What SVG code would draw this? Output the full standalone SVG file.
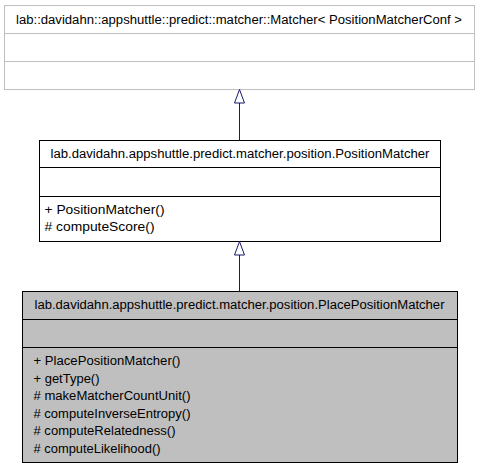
<svg xmlns="http://www.w3.org/2000/svg" width="480" height="469" viewBox="0 0 480 469">
<style>
text{font-family:"Liberation Sans",Arial,Helvetica,sans-serif;font-size:12.5px;fill:#000}
.t{text-anchor:middle}
.grey{fill:#fff;stroke:#bfbfbf;stroke-width:1}
.blk{fill:#fff;stroke:#000;stroke-width:1}
.cur{fill:#bfbfbf;stroke:#000;stroke-width:1}
.edge{stroke:#191970;stroke-width:1;fill:none}
.head{stroke:#191970;stroke-width:1;fill:#fff}
</style>
<rect width="480" height="469" fill="#fff"/>
<g id="node_matcher">
<rect class="grey" x="4.5" y="5.5" width="470" height="84"/>
<line class="grey" x1="4.5" y1="33.5" x2="474.5" y2="33.5"/>
<line class="grey" x1="4.5" y1="61.5" x2="474.5" y2="61.5"/>
<text class="t" x="239" y="23.5" textLength="446" lengthAdjust="spacingAndGlyphs">lab::davidahn::appshuttle::predict::matcher::Matcher&lt; PositionMatcherConf &gt;</text>
</g>
<g id="node_position_matcher">
<rect class="blk" x="39.5" y="140.5" width="401" height="101"/>
<line class="blk" x1="39.5" y1="167.5" x2="440.5" y2="167.5"/>
<line class="blk" x1="39.5" y1="196.5" x2="440.5" y2="196.5"/>
<text class="t" x="240" y="157.5" textLength="379" lengthAdjust="spacingAndGlyphs">lab.davidahn.appshuttle.predict.matcher.position.PositionMatcher</text>
<text x="44.5" y="213.5" textLength="120" lengthAdjust="spacingAndGlyphs">+ PositionMatcher()</text>
<text x="44.5" y="231" textLength="110" lengthAdjust="spacingAndGlyphs">#&#160;computeScore()</text>
</g>
<g id="node_place_position_matcher">
<rect class="cur" x="22.5" y="291.5" width="435" height="171"/>
<line class="cur" x1="22.5" y1="319.5" x2="457.5" y2="319.5"/>
<line class="cur" x1="22.5" y1="347.5" x2="457.5" y2="347.5"/>
<text class="t" x="239.5" y="308.5" textLength="410" lengthAdjust="spacingAndGlyphs">lab.davidahn.appshuttle.predict.matcher.position.PlacePositionMatcher</text>
<text x="33.5" y="365" textLength="147" lengthAdjust="spacingAndGlyphs">+ PlacePositionMatcher()</text>
<text x="33.5" y="382.5" textLength="66" lengthAdjust="spacingAndGlyphs">+ getType()</text>
<text x="33.5" y="400" textLength="157" lengthAdjust="spacingAndGlyphs">#&#160;makeMatcherCountUnit()</text>
<text x="33.5" y="417.5" textLength="157" lengthAdjust="spacingAndGlyphs">#&#160;computeInverseEntropy()</text>
<text x="33.5" y="435" textLength="142" lengthAdjust="spacingAndGlyphs">#&#160;computeRelatedness()</text>
<text x="33.5" y="452.5" textLength="127" lengthAdjust="spacingAndGlyphs">#&#160;computeLikelihood()</text>
</g>
<g id="connectors">
<line class="edge" x1="239.5" y1="140.5" x2="239.5" y2="103"/>
<polygon class="head" points="239.5,89.5 234.5,103 244.5,103"/>
<line class="edge" x1="239.5" y1="291.5" x2="239.5" y2="255"/>
<polygon class="head" points="239.5,241.5 234.5,255 244.5,255"/>
</g>
</svg>
